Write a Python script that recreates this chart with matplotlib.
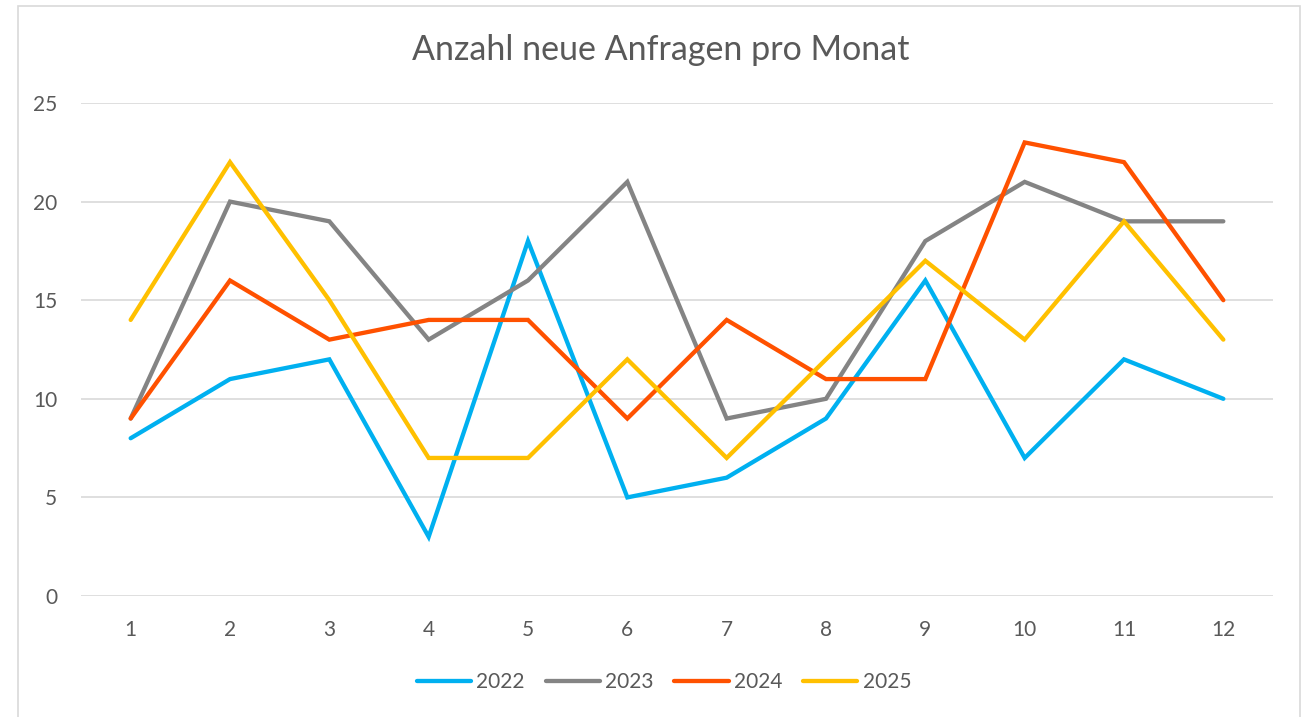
import matplotlib
matplotlib.use("Agg")
import matplotlib.pyplot as plt
from matplotlib.patches import Rectangle

months = [1, 2, 3, 4, 5, 6, 7, 8, 9, 10, 11, 12]
y2022 = [8, 11, 12, 3, 18, 5, 6, 9, 16, 7, 12, 10]
y2023 = [9, 20, 19, 13, 16, 21, 9, 10, 18, 21, 19, 19]
y2024 = [9, 16, 13, 14, 14, 9, 14, 11, 11, 23, 22, 15]
y2025 = [14, 22, 15, 7, 7, 12, 7, 12, 17, 13, 19, 13]
labels = ['2022', '2023', '2024', '2025']
colors = ['#00B0F0', '#848484', '#FF5100', '#FFC000']

plt.rcParams['font.family'] = ['Lato', 'DejaVu Sans']
txt = '#595959'

fig = plt.figure(figsize=(13.02, 7.17), dpi=100)
ax = fig.add_axes([81 / 1302, 1 - 596 / 717, (1273 - 81) / 1302, (596 - 103) / 717])

for vals, lab, col in zip([y2022, y2023, y2024, y2025], labels, colors):
    ax.plot(months, vals, color=col, lw=3.1, label=lab,
            solid_capstyle='round', solid_joinstyle='miter')

ax.set_xlim(0.5, 12.5)
ax.set_ylim(0, 25)
ax.set_yticks([0, 5, 10, 15, 20, 25])
ax.set_xticks(months)
ax.grid(axis='y', color='#d9d9d9', lw=1.2)
ax.set_axisbelow(True)
for s in ax.spines.values():
    s.set_visible(False)
ax.tick_params(length=0, colors=txt, labelsize=15)
ax.tick_params(axis='y', pad=17)
ax.tick_params(axis='x', pad=17)

fig.text(661 / 1302, 1 - 50 / 717, 'Anzahl neue Anfragen pro Monat',
         ha='center', va='center', fontsize=24.5, color=txt)

leg = fig.legend(loc='center', bbox_to_anchor=(664 / 1302, 1 - 682 / 717),
                 ncol=4, frameon=False, fontsize=15, handlelength=2.6,
                 handletextpad=0.25, columnspacing=1.0)
for t in leg.get_texts():
    t.set_color(txt)
for h in leg.legend_handles:
    h.set_solid_capstyle('round')

fig.patches.append(Rectangle((18 / 1302, -0.01), (1300 - 18) / 1302, 1.01 - 6 / 717,
                             transform=fig.transFigure, fill=False,
                             edgecolor='#d9d9d9', lw=1.2))

fig.savefig('out.png', dpi=100)
